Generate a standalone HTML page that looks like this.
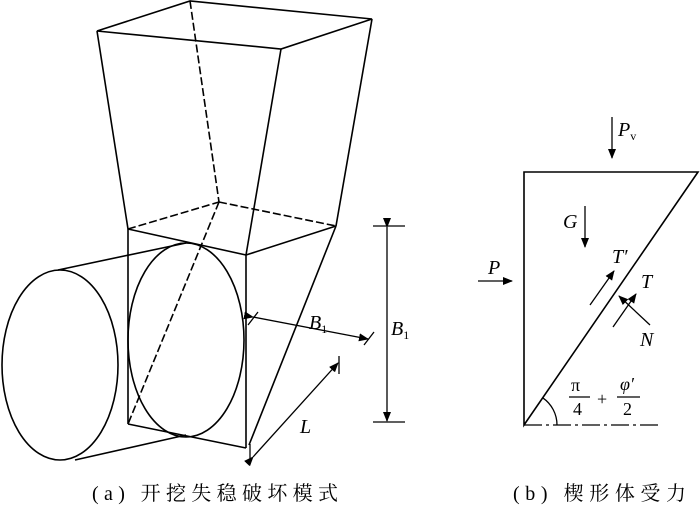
<!DOCTYPE html>
<html><head><meta charset="utf-8"><style>
body{margin:0;background:#fff;}
svg text{font-family:"Liberation Serif","Noto Serif CJK SC",serif;fill:#000;}
</style></head><body>
<svg width="700" height="506" viewBox="0 0 700 506" xmlns="http://www.w3.org/2000/svg">
<defs>
<marker id="ar" markerWidth="10" markerHeight="8" refX="9" refY="4" orient="auto" markerUnits="userSpaceOnUse">
<path d="M0,0 L10,4 L0,8 Z" fill="#000"/></marker>
</defs>
<g fill="none" stroke="#000" stroke-width="1.6">
<path d="M97,31 L190,1 L372,19 L281,49 Z"/>
<line x1="97" y1="31" x2="128" y2="229"/>
<line x1="281" y1="49" x2="246" y2="255"/>
<line x1="372" y1="19" x2="336" y2="226"/>
<line x1="190" y1="1" x2="219" y2="202" stroke-dasharray="8,3"/>
<line x1="128" y1="229" x2="219" y2="202" stroke-dasharray="8,3"/>
<line x1="219" y1="202" x2="336" y2="226" stroke-dasharray="8,3"/>
<line x1="128" y1="229" x2="246" y2="255"/>
<line x1="246" y1="255" x2="336" y2="226"/>
<line x1="128" y1="229" x2="128" y2="424"/>
<line x1="246" y1="255" x2="246" y2="448"/>
<line x1="128" y1="424" x2="246" y2="448"/>
<line x1="219" y1="202" x2="128" y2="424" stroke-dasharray="8,3"/>
<line x1="336" y1="226" x2="249" y2="445"/>
<ellipse cx="186" cy="340" rx="58" ry="97"/>
<ellipse cx="60" cy="365" rx="58" ry="95"/>
<line x1="58" y1="270" x2="186" y2="243"/>
<line x1="75" y1="460" x2="186" y2="435"/>
<line x1="253" y1="317" x2="368" y2="339" marker-start="url(#ar)" marker-end="url(#ar)" stroke-width="1.3"/>
<line x1="248" y1="325" x2="258" y2="312" stroke-width="1.3"/>
<line x1="364" y1="345" x2="374" y2="332" stroke-width="1.3"/>
<line x1="387" y1="227" x2="387" y2="421" marker-start="url(#ar)" marker-end="url(#ar)" stroke-width="1.3"/>
<line x1="373" y1="226" x2="405" y2="226" stroke-width="1.3"/>
<line x1="373" y1="422" x2="405" y2="422" stroke-width="1.3"/>
<line x1="253" y1="457" x2="338" y2="363" marker-start="url(#ar)" marker-end="url(#ar)" stroke-width="1.3"/>
<line x1="339" y1="356" x2="339" y2="374" stroke-width="1.3"/>
<line x1="250" y1="444" x2="250" y2="460" stroke-width="1.3"/>
<path d="M524,172 L698,172 L524,425 Z"/>
<line x1="524" y1="425" x2="662" y2="425" stroke-dasharray="18,4,3,4" stroke-width="1.3"/>
<path d="M557,425 A33,33 0 0 0 542.7,397.8" stroke-width="1.3"/>
<line x1="612" y1="117" x2="612" y2="158" marker-end="url(#ar)" stroke-width="1.3"/>
<line x1="585" y1="206" x2="585" y2="247" marker-end="url(#ar)" stroke-width="1.3"/>
<line x1="478" y1="281" x2="512" y2="281" marker-end="url(#ar)" stroke-width="1.3"/>
<line x1="590" y1="305" x2="614" y2="271" marker-end="url(#ar)" stroke-width="1.3"/>
<line x1="613" y1="327" x2="636" y2="294" marker-end="url(#ar)" stroke-width="1.3"/>
<line x1="650" y1="325" x2="619" y2="296" marker-end="url(#ar)" stroke-width="1.3"/>
<line x1="569" y1="397" x2="590" y2="397" stroke-width="1.2"/>
<line x1="617" y1="397" x2="640" y2="397" stroke-width="1.2"/>
</g>
<g font-size="20" font-style="italic">
<text x="309" y="329">B<tspan font-size="12" font-style="normal" dy="4">1</tspan></text>
<text x="391" y="335">B<tspan font-size="12" font-style="normal" dy="4">1</tspan></text>
<text x="300" y="433">L</text>
<text x="618" y="136">P<tspan font-size="12" font-style="normal" dy="4">v</tspan></text>
<text x="563" y="228">G</text>
<text x="488" y="274">P</text>
<text x="612" y="263">T′</text>
<text x="641" y="288">T</text>
<text x="640" y="346">N</text>
<text x="620" y="390" font-size="18">φ′</text>
</g>
<g font-size="18">
<text x="571" y="391">π</text>
<text x="573" y="415">4</text>
<text x="597" y="405">+</text>
<text x="623" y="415">2</text>
</g>
<g font-size="20">
<text x="92" y="500" textLength="246" lengthAdjust="spacing">(a)  开挖失稳破坏模式</text>
<text x="513" y="500" textLength="173" lengthAdjust="spacing">(b)  楔形体受力</text>
</g>
</svg>
</body></html>
